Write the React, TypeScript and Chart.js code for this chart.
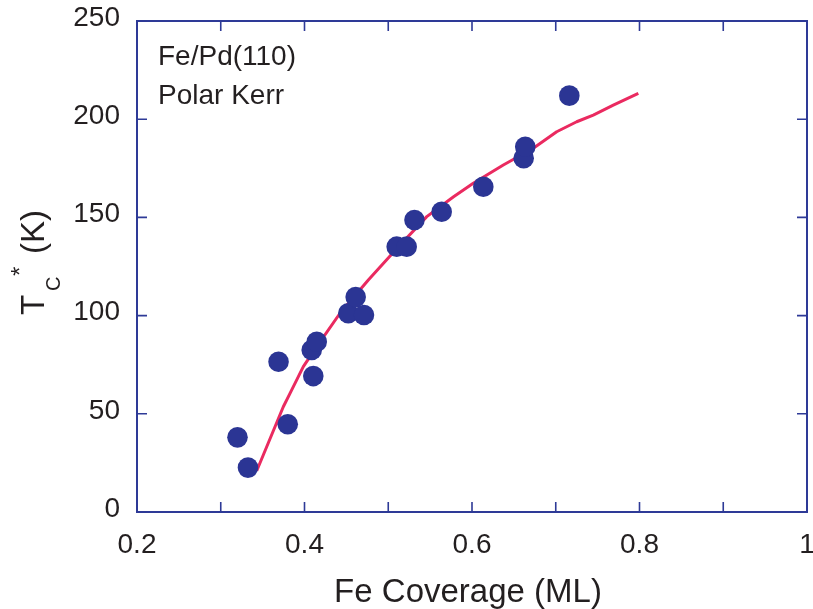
import React, { useEffect, useRef } from 'react';
import { Chart, registerables } from 'chart.js';

Chart.register(...registerables);

// Measured data points: Fe coverage (ML) vs T_C* (K)
const coverage = [0.320, 0.3325, 0.380, 0.369, 0.4105, 0.4086, 0.4146, 0.4523, 0.4611, 0.471, 0.5101, 0.522, 0.5313, 0.5638, 0.6135, 0.6617, 0.6636, 0.7162];
const tcValues = [38.0, 22.6, 44.7, 76.5, 69.2, 82.5, 86.7, 101.2, 109.5, 100.3, 135.1, 135.1, 148.7, 152.9, 165.6, 180.1, 186.0, 212.0];

// Fit curve
const fitCoverage = [0.343, 0.3747, 0.3827, 0.3986, 0.4146, 0.4424, 0.4762, 0.510, 0.546, 0.578, 0.6015, 0.6374, 0.6732, 0.7011, 0.725, 0.7448, 0.7687, 0.7986];
const fitTc = [21.0, 53.6, 60.4, 74.0, 84.2, 101.2, 118.1, 134.0, 150.4, 160.5, 167.4, 176.7, 185.2, 193.6, 198.7, 202.1, 207.2, 213.2];

// Axis tick values
const xTickValues = [0.2, 0.3, 0.4, 0.5, 0.6, 0.7, 0.8, 0.9, 1.0];
const yTickValues = [0, 50, 100, 150, 200, 250];

const xTitle = 'Fe Coverage (ML)';
const yTitleMain = 'T';
const yTitleSub = 'C';
const yTitleSup = '*';
const yTitleUnit = '(K)';
const annotationLines = ['Fe/Pd(110)', 'Polar Kerr'];

const FONT = '"Liberation Sans", Arial, Helvetica, sans-serif';
const AXIS_COLOR = '#2e3a97';
const TEXT_COLOR = '#231f20';
const POINT_COLOR = '#2b3594';
const LINE_COLOR = '#ea2a60';

const framePlugin = {
  id: 'framePlugin',
  afterDraw(chart: any) {
    const { ctx, chartArea: a, scales } = chart;
    const x = scales.x;
    const y = scales.y;
    ctx.save();
    ctx.strokeStyle = AXIS_COLOR;
    ctx.lineWidth = 2;
    ctx.strokeRect(a.left, a.top, a.right - a.left, a.bottom - a.top);
    ctx.lineWidth = 1.6;
    ctx.beginPath();
    for (const v of xTickValues) {
      const px = x.getPixelForValue(v);
      ctx.moveTo(px, a.bottom);
      ctx.lineTo(px, a.bottom - 10);
      ctx.moveTo(px, a.top);
      ctx.lineTo(px, a.top + 10);
    }
    for (const v of yTickValues) {
      const py = y.getPixelForValue(v);
      ctx.moveTo(a.left, py);
      ctx.lineTo(a.left + 10, py);
      ctx.moveTo(a.right, py);
      ctx.lineTo(a.right - 10, py);
    }
    ctx.stroke();

    ctx.fillStyle = TEXT_COLOR;
    ctx.textBaseline = 'alphabetic';
    ctx.textAlign = 'left';
    ctx.font = `28px ${FONT}`;
    ctx.fillText(annotationLines[0], a.left + 21, a.top + 44);
    ctx.fillText(annotationLines[1], a.left + 21, a.top + 83);

    ctx.font = `33px ${FONT}`;
    ctx.textAlign = 'center';
    ctx.fillText(xTitle, 468, 602);

    ctx.translate(44, 315);
    ctx.rotate(-Math.PI / 2);
    ctx.textAlign = 'left';
    ctx.font = `33px ${FONT}`;
    ctx.fillText(yTitleMain, 0, 0);
    ctx.font = `20px ${FONT}`;
    ctx.fillText(yTitleSub, 24, 16);
    ctx.font = `24px ${FONT}`;
    ctx.fillText(yTitleSup, 39, -16.5);
    ctx.font = `33px ${FONT}`;
    ctx.fillText(yTitleUnit, 61, 0);
    ctx.restore();
  },
};

function zeroPadding(scale: any) {
  scale.paddingTop = 0;
  scale.paddingBottom = 0;
  scale.paddingLeft = 0;
  scale.paddingRight = 0;
}

export default function App() {
  const canvasRef = useRef<HTMLCanvasElement | null>(null);

  useEffect(() => {
    document.body.style.margin = '0';
    const canvas = canvasRef.current;
    if (!canvas) return;
    const chart = new Chart(canvas, {
      type: 'scatter',
      data: {
        datasets: [
          {
            label: 'data',
            data: coverage.map((c, i) => ({ x: c, y: tcValues[i] })),
            backgroundColor: POINT_COLOR,
            borderColor: POINT_COLOR,
            borderWidth: 0,
            pointRadius: 10.3,
            pointHoverRadius: 10.3,
            showLine: false,
          },
          {
            label: 'fit',
            data: fitCoverage.map((c, i) => ({ x: c, y: fitTc[i] })),
            borderColor: LINE_COLOR,
            backgroundColor: LINE_COLOR,
            borderWidth: 3,
            borderJoinStyle: 'round',
            pointRadius: 0,
            showLine: true,
            tension: 0,
          },
        ],
      },
      options: {
        responsive: false,
        animation: false,
        devicePixelRatio: 1,
        layout: { padding: { left: 0, right: 23, top: 21, bottom: 0 } },
        plugins: {
          legend: { display: false },
          tooltip: { enabled: false },
          title: { display: false },
        },
        scales: {
          x: {
            type: 'linear',
            min: 0.2,
            max: 1.0,
            grid: { display: false, drawTicks: false },
            border: { display: false },
            ticks: {
              stepSize: 0.2,
              color: TEXT_COLOR,
              font: { family: FONT, size: 28 },
              padding: 16,
              maxRotation: 0,
              callback: (v: any) => String(Number(Number(v).toFixed(1))),
            },
            afterFit(scale: any) {
              scale.height = 97;
              zeroPadding(scale);
            },
          },
          y: {
            type: 'linear',
            min: 0,
            max: 250,
            grid: { display: false, drawTicks: false },
            border: { display: false },
            ticks: {
              stepSize: 50,
              color: TEXT_COLOR,
              font: { family: FONT, size: 28 },
              padding: 17,
              labelOffset: -3,
            },
            afterFit(scale: any) {
              scale.width = 137;
              zeroPadding(scale);
            },
          },
        },
      },
      plugins: [framePlugin],
    });
    return () => chart.destroy();
  }, []);

  return (
    <div style={{ width: 813, height: 609, overflow: 'hidden', background: '#fff' }}>
      <canvas ref={canvasRef} width={830} height={609} style={{ display: 'block' }} />
    </div>
  );
}
